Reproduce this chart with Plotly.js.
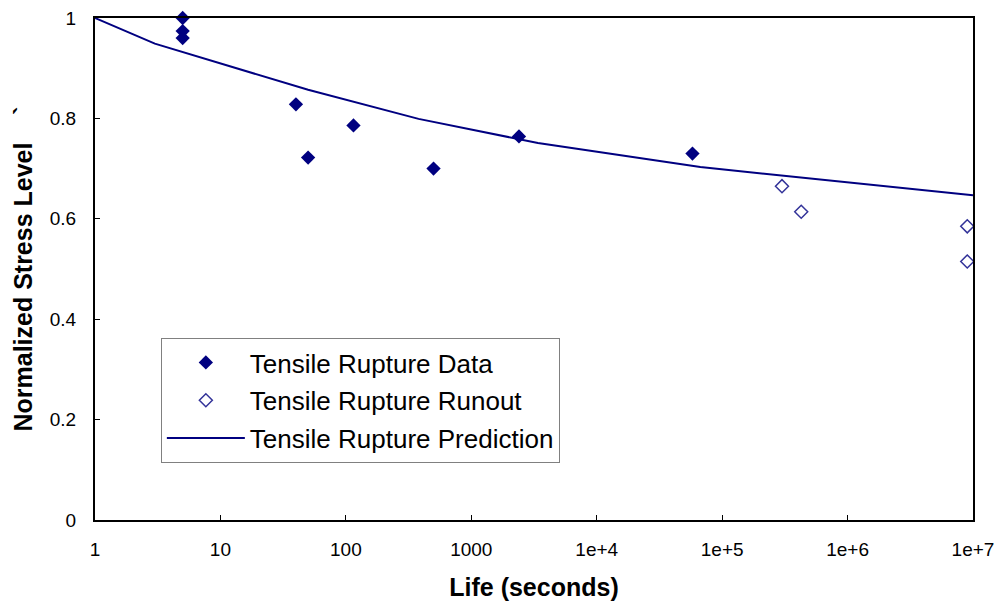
<!DOCTYPE html>
<html>
<head>
<meta charset="utf-8">
<script src="https://cdn.plot.ly/plotly-3.0.1.min.js"></script>
<style>
  html, body { margin: 0; padding: 0; background: #fff; }
  #chart { width: 1003px; height: 605px; }
</style>
</head>
<body>
<div id="chart"></div>
<script>
// Tensile rupture data (life in seconds, normalized stress)
const dataLife = [5, 5, 5, 40, 50, 115, 500, 2400, 58000];
const dataStress = [1.0, 0.974, 0.96, 0.828, 0.722, 0.786, 0.70, 0.764, 0.73];

// Runout (open) points
const runoutLife = [300000, 427000, 9000000, 9000000];
const runoutStress = [0.665, 0.614, 0.585, 0.515];

// Prediction curve
const predLife = [1, 3, 50, 380, 3400, 67000, 10000000];
const predStress = [1.0, 0.949, 0.857, 0.799, 0.751, 0.703, 0.647];

// Axis ticks
const xTickVals = [1, 10, 100, 1000, 10000, 100000, 1000000, 10000000];
const xTickText = ['1', '10', '100', '1000', '1e+4', '1e+5', '1e+6', '1e+7'];
const yTickVals = [0, 0.2, 0.4, 0.6, 0.8, 1];
const yTickText = ['0', '0.2', '0.4', '0.6', '0.8', '1'];

const FONT = '"Liberation Sans", Arial, Helvetica, sans-serif';

const traces = [
  {
    x: dataLife, y: dataStress,
    type: 'scatter', mode: 'markers',
    name: 'Tensile Rupture Data',
    legendgroup: 'a',
    cliponaxis: false,
    marker: { symbol: 'diamond', size: 11, color: '#000080', line: { width: 0 } }
  },
  {
    x: runoutLife, y: runoutStress,
    type: 'scatter', mode: 'markers',
    name: 'Tensile Rupture Runout',
    legendgroup: 'b',
    cliponaxis: false,
    marker: { symbol: 'diamond-open', size: 10, color: '#333399', line: { width: 1.5, color: '#333399' } }
  },
  {
    x: predLife, y: predStress,
    type: 'scatter', mode: 'lines',
    name: 'Tensile Rupture Prediction',
    legendgroup: 'c',
    line: { color: '#000080', width: 2 }
  }
];

const layout = {
  width: 1003, height: 605,
  margin: { l: 95, r: 30, t: 18, b: 85, pad: 0 },
  paper_bgcolor: '#ffffff',
  plot_bgcolor: '#ffffff',
  font: { family: FONT, color: '#000000', size: 18 },
  showlegend: true,
  legend: {
    x: 0.075, y: 0.3625, xanchor: 'left', yanchor: 'top',
    bgcolor: '#ffffff', bordercolor: '#808080', borderwidth: 1,
    font: { family: FONT, size: 26, color: '#000000' },
    traceorder: 'grouped', tracegroupgap: 1,
    itemwidth: 78
  },
  xaxis: {
    type: 'log', range: [0, 7],
    tickmode: 'array', tickvals: xTickVals, ticktext: xTickText,
    ticks: 'inside', ticklen: 5, tickwidth: 1, tickcolor: '#000',
    showline: true, linecolor: '#000', linewidth: 2, mirror: true,
    showgrid: false, zeroline: false,
    tickfont: { family: FONT, size: 19, color: '#000' },
    ticklabelstandoff: 11,
    title: { text: 'Life (seconds)', font: { family: FONT, size: 25, color: '#000', weight: 'bold' }, standoff: 20 }
  },
  yaxis: {
    range: [0, 1],
    tickmode: 'array', tickvals: yTickVals, ticktext: yTickText,
    ticks: 'inside', ticklen: 5, tickwidth: 1, tickcolor: '#000',
    showline: true, linecolor: '#000', linewidth: 2, mirror: true,
    showgrid: false, zeroline: false,
    tickfont: { family: FONT, size: 19, color: '#000' },
    ticklabelstandoff: 13,
    title: { text: 'Normalized Stress Level    `', font: { family: FONT, size: 25, color: '#000', weight: 'bold' }, standoff: 10 }
  }
};

Plotly.newPlot('chart', traces, layout, { staticPlot: true, displayModeBar: false });
</script>
</body>
</html>
